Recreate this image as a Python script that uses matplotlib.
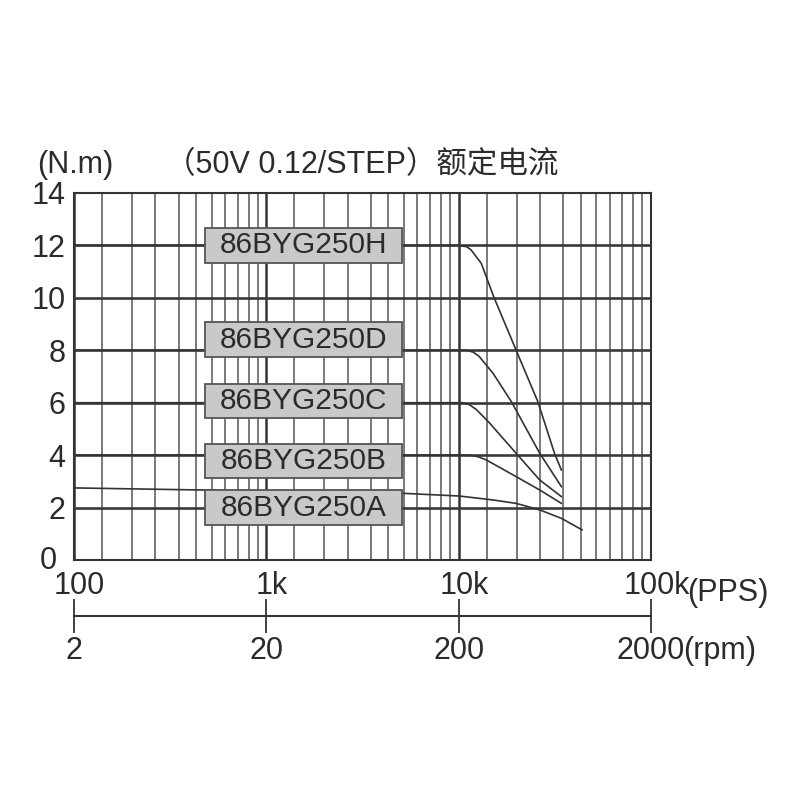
import matplotlib
matplotlib.use("Agg")
import matplotlib.pyplot as plt
from matplotlib.patches import Rectangle
import numpy as np

plt.rcParams['font.family'] = ['Liberation Sans', 'Noto Sans CJK SC', 'DejaVu Sans']

# --- data ---
models = ['86BYG250H', '86BYG250D', '86BYG250C', '86BYG250B', '86BYG250A']

freq_H = [100, 1000, 10100, 11000, 11600, 13100, 15200, 19900, 25800, 31500, 34200]
torque_H = [12, 12, 12.0, 11.95, 11.83, 11.32, 10.05, 8.0, 6.04, 4.07, 3.43]

freq_D = [100, 1000, 11000, 11900, 12800, 15100, 18800, 26400, 34200]
torque_D = [8, 8, 8.0, 7.93, 7.76, 7.12, 6.04, 4.07, 2.8]

freq_C = [100, 1000, 10500, 11400, 12400, 14500, 19900, 26400, 34200]
torque_C = [6, 6, 6.0, 5.92, 5.73, 5.22, 4.07, 3.05, 2.42]

freq_B = [100, 1000, 11400, 12600, 13900, 19900, 26400, 34200]
torque_B = [4, 4, 4.0, 3.94, 3.82, 3.18, 2.67, 2.16]

freq_A = [100, 1000, 4940, 10100, 15100, 19900, 26400, 34200, 43800]
torque_A = [2.75, 2.63, 2.55, 2.44, 2.29, 2.16, 1.91, 1.59, 1.15]

curves = [(freq_H, torque_H), (freq_D, torque_D), (freq_C, torque_C),
          (freq_B, torque_B), (freq_A, torque_A)]

# label box vertical centres
label_y = [12.0, 8.4, 6.07, 3.78, 2.0]

pps_ticks = [100, 1000, 10000, 100000]
pps_labels = ['100', '1k', '10k', '100k']
rpm_ticks = [2, 20, 200, 2000]
rpm_labels = ['2', '20', '200', '2000']
y_ticks = [0, 2, 4, 6, 8, 10, 12, 14]

# the printed grid is not a clean log grid - mantissas
grid_mant = [1.4, 2.0, 2.65, 3.5, 4.3, 5.2, 6.1, 7.1, 8.1, 9.0]

ink = '#2b2b2b'
fs = 22

fig = plt.figure(figsize=(8, 8), dpi=100)
ax = fig.add_axes([74 / 800, 240 / 800, 577 / 800, 367 / 800])
ax.set_xscale('log')
ax.set_xlim(100, 100000)
ax.set_ylim(0, 14)

# grid
for dec in [100, 1000, 10000]:
    for m in grid_mant:
        ax.axvline(dec * m, color='#555555', lw=1.1, zorder=1)
for v in pps_ticks:
    ax.axvline(v, color='#333333', lw=1.8, zorder=1)
for yv in y_ticks[1:-1]:
    ax.axhline(yv, color='#3a3a3a', lw=1.9, zorder=1)

# curves
for fx, ty in curves:
    ax.plot(fx, ty, color='#333333', lw=1.2, zorder=2, solid_joinstyle='round')

# model label boxes
for name, yc in zip(models, label_y):
    ax.add_patch(Rectangle((480, yc - 0.66), 5100 - 480, 1.32,
                           facecolor='#c9c9c9', edgecolor='#555555', lw=1.3, zorder=3))
    ax.text(np.sqrt(480 * 5100), yc, name, ha='center', va='center',
            fontsize=21.5, color=ink, zorder=4)

for s in ax.spines.values():
    s.set_linewidth(1.5)
    s.set_color('#333333')

ax.set_xticks([])
ax.minorticks_off()
ax.set_yticks(y_ticks)
ax.set_yticklabels([''] + [str(v) for v in y_ticks[1:]], fontsize=fs, color=ink)
ax.tick_params(axis='y', length=0, pad=6)
ax.annotate('0', xy=(0, 0), xycoords='axes fraction', xytext=(-12, -1),
            textcoords='offset points', ha='right', va='center', fontsize=fs, color=ink)

# PPS labels
for v, lab in zip(pps_ticks, pps_labels):
    ax.annotate(lab, xy=(v, 0), xycoords=('data', 'axes fraction'),
                xytext=(4, -8), textcoords='offset points',
                ha='center', va='top', fontsize=fs, color=ink)
ax.annotate('(PPS)', xy=(100000, 0), xycoords=('data', 'axes fraction'),
            xytext=(26, -13), textcoords='offset points',
            ha='left', va='top', fontsize=fs, color=ink)

# rpm axis below
sec = ax.secondary_xaxis(-56 / 367, functions=(lambda x: x / 50, lambda x: x * 50))
sec.set_xticks(rpm_ticks)
sec.set_xticklabels(rpm_labels, fontsize=fs, color=ink)
sec.minorticks_off()
sec.tick_params(axis='x', direction='inout', length=25, width=1.3, pad=2, color='#333333')
sec.spines['bottom'].set_linewidth(1.5)
sec.spines['bottom'].set_color('#333333')
ax.annotate('(rpm)', xy=(100000, -56 / 367), xycoords=('data', 'axes fraction'),
            xytext=(23, -14.5), textcoords='offset points',
            ha='left', va='top', fontsize=fs, color=ink)

# headings
fig.text(37 / 800, 1 - 165 / 800, '(N.m)', fontsize=fs, color=ink, va='center')
fig.text(165 / 800, 1 - 165 / 800, '（50V 0.12/STEP）额定电流', fontsize=fs,
         color=ink, va='center')

fig.savefig('out.png', dpi=100)
